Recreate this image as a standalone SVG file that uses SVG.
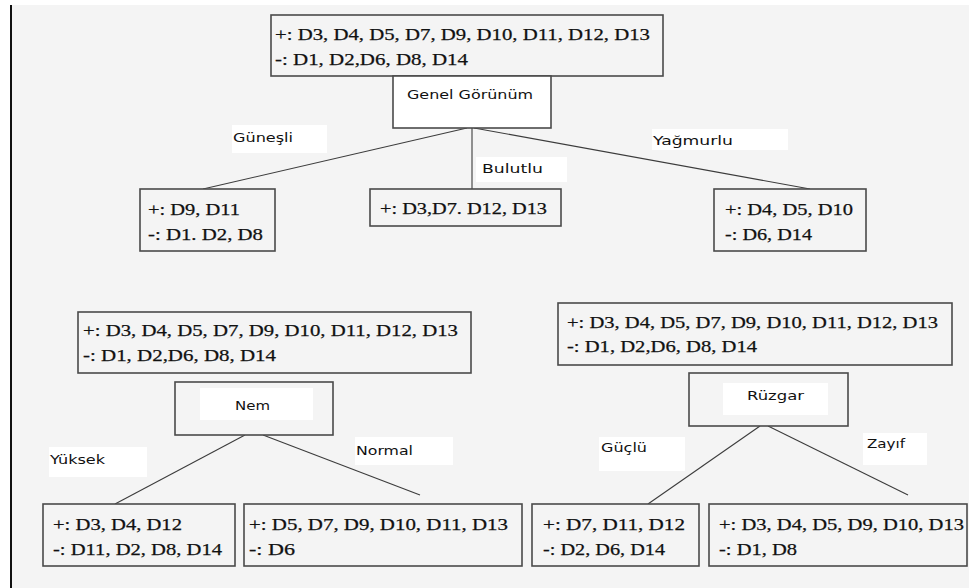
<svg xmlns="http://www.w3.org/2000/svg" width="969" height="588" viewBox="0 0 969 588">
<style>
.bg{fill:#f4f4f4}
.box{fill:#f4f4f4;stroke:#4a4a4a;stroke-width:1.6}
.attr{fill:#ffffff;stroke:#4a4a4a;stroke-width:1.6}
.wb{fill:#ffffff}
.s{font-family:"Liberation Serif","Times New Roman",serif;font-size:17px;fill:#111;stroke:#111;stroke-width:0.25}
.l{font-family:"DejaVu Sans","Liberation Sans",sans-serif;font-size:13px;fill:#111}
.c line{stroke:#3c3c3c;stroke-width:1.1}
</style>
<rect width="969" height="588" fill="#ffffff"/>
<rect class="bg" x="12" y="5" width="957" height="583"/>
<line x1="11" y1="5" x2="11" y2="588" stroke="#111" stroke-width="2"/>

<g class="c" id="connectors">
<line x1="467" y1="128" x2="203" y2="189"/>
<line x1="472" y1="128" x2="472" y2="189"/>
<line x1="474" y1="128" x2="810" y2="189"/>
<line x1="245" y1="435" x2="115" y2="504"/>
<line x1="263" y1="435" x2="420" y2="495"/>
<line x1="760" y1="426" x2="648" y2="504"/>
<line x1="768" y1="426" x2="908" y2="495"/>
</g>

<g id="labels">
<rect class="wb" x="232" y="125" width="95" height="28"/>
<text class="l" x="233" y="142" textLength="60" lengthAdjust="spacingAndGlyphs">Güneşli</text>
<rect class="wb" x="476" y="157" width="91" height="25"/>
<text class="l" x="482" y="173" textLength="61" lengthAdjust="spacingAndGlyphs">Bulutlu</text>
<rect class="wb" x="652" y="129" width="136" height="21"/>
<text class="l" x="653" y="145" textLength="80" lengthAdjust="spacingAndGlyphs">Yağmurlu</text>
<rect class="wb" x="49" y="447" width="98" height="30"/>
<text class="l" x="50" y="464" textLength="55" lengthAdjust="spacingAndGlyphs">Yüksek</text>
<rect class="wb" x="355" y="437" width="98" height="28"/>
<text class="l" x="356" y="455" textLength="57" lengthAdjust="spacingAndGlyphs">Normal</text>
<rect class="wb" x="599" y="437" width="86" height="34"/>
<text class="l" x="601" y="452" textLength="46" lengthAdjust="spacingAndGlyphs">Güçlü</text>
<rect class="wb" x="863" y="433" width="64" height="32"/>
<text class="l" x="867" y="448" textLength="38" lengthAdjust="spacingAndGlyphs">Zayıf</text>
</g>

<g id="root-set">
<rect class="box" x="271" y="15" width="392" height="61"/>
<text class="s" x="275" y="40" textLength="375" lengthAdjust="spacingAndGlyphs">+: D3, D4, D5, D7, D9, D10, D11, D12, D13</text>
<text class="s" x="275" y="65" textLength="193" lengthAdjust="spacingAndGlyphs">-: D1, D2,D6, D8, D14</text>
</g>
<g id="genel-gorunum">
<rect class="attr" x="393" y="76" width="158" height="52"/>
<text class="l" x="407" y="99" textLength="126" lengthAdjust="spacingAndGlyphs">Genel  Görünüm</text>
</g>

<g id="gunesli-set">
<rect class="box" x="140" y="189" width="135" height="62"/>
<text class="s" x="148" y="215" textLength="92" lengthAdjust="spacingAndGlyphs">+: D9, D11</text>
<text class="s" x="148" y="240" textLength="115" lengthAdjust="spacingAndGlyphs">-: D1. D2, D8</text>
</g>
<g id="bulutlu-set">
<rect class="box" x="370" y="189" width="191" height="37"/>
<text class="s" x="380" y="214" textLength="167" lengthAdjust="spacingAndGlyphs">+: D3,D7. D12, D13</text>
</g>
<g id="yagmurlu-set">
<rect class="box" x="714" y="189" width="152" height="62"/>
<text class="s" x="725" y="215" textLength="128" lengthAdjust="spacingAndGlyphs">+: D4, D5, D10</text>
<text class="s" x="725" y="240" textLength="87" lengthAdjust="spacingAndGlyphs">-: D6, D14</text>
</g>

<g id="nem-set">
<rect class="box" x="78" y="312" width="393" height="61"/>
<text class="s" x="83" y="336" textLength="375" lengthAdjust="spacingAndGlyphs">+: D3, D4, D5, D7, D9, D10, D11, D12, D13</text>
<text class="s" x="83" y="361" textLength="193" lengthAdjust="spacingAndGlyphs">-: D1, D2,D6, D8, D14</text>
</g>
<g id="nem">
<rect class="box" x="175" y="382" width="158" height="53"/>
<rect class="wb" x="200" y="388" width="113" height="32"/>
<text class="l" x="235" y="410" textLength="35" lengthAdjust="spacingAndGlyphs">Nem</text>
</g>

<g id="ruzgar-set">
<rect class="box" x="558" y="303" width="394" height="62"/>
<text class="s" x="567" y="328" textLength="371" lengthAdjust="spacingAndGlyphs">+: D3, D4, D5, D7, D9, D10, D11, D12, D13</text>
<text class="s" x="567" y="352" textLength="190" lengthAdjust="spacingAndGlyphs">-: D1, D2,D6, D8, D14</text>
</g>
<g id="ruzgar">
<rect class="box" x="689" y="373" width="159" height="53"/>
<rect class="wb" x="723" y="383" width="105" height="32"/>
<text class="l" x="747" y="400" textLength="57" lengthAdjust="spacingAndGlyphs">Rüzgar</text>
</g>

<g id="yuksek-set">
<rect class="box" x="43" y="504" width="192" height="62"/>
<text class="s" x="53" y="530" textLength="129" lengthAdjust="spacingAndGlyphs">+: D3, D4, D12</text>
<text class="s" x="53" y="555" textLength="169" lengthAdjust="spacingAndGlyphs">-: D11, D2, D8, D14</text>
</g>
<g id="normal-set">
<rect class="box" x="244" y="504" width="278" height="62"/>
<text class="s" x="249" y="530" textLength="259" lengthAdjust="spacingAndGlyphs">+: D5, D7, D9, D10, D11, D13</text>
<text class="s" x="249" y="555" textLength="46" lengthAdjust="spacingAndGlyphs">-: D6</text>
</g>
<g id="guclu-set">
<rect class="box" x="532" y="504" width="167" height="62"/>
<text class="s" x="543" y="530" textLength="142" lengthAdjust="spacingAndGlyphs">+: D7,  D11, D12</text>
<text class="s" x="543" y="555" textLength="122" lengthAdjust="spacingAndGlyphs">-: D2, D6, D14</text>
</g>
<g id="zayif-set">
<rect class="box" x="709" y="504" width="258" height="62"/>
<text class="s" x="719" y="530" textLength="245" lengthAdjust="spacingAndGlyphs">+: D3, D4,  D5, D9, D10, D13</text>
<text class="s" x="719" y="555" textLength="78" lengthAdjust="spacingAndGlyphs">-: D1, D8</text>
</g>
</svg>
